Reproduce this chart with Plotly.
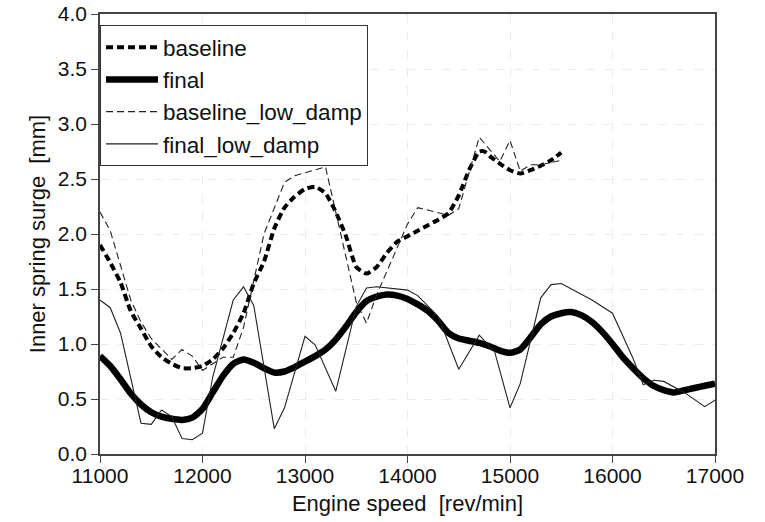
import plotly.graph_objects as go

# ---- data ----
baseline_rpm = [11000, 11100, 11200, 11300, 11400, 11500, 11600, 11700, 11800, 11900,
                12000, 12100, 12200, 12300, 12400, 12500, 12600, 12700, 12800, 12900,
                13000, 13100, 13200, 13300, 13400, 13500, 13600, 13700, 13800, 13900,
                14000, 14100, 14200, 14300, 14400, 14500, 14600, 14700, 14750, 14800,
                14900, 15000, 15100, 15200, 15300, 15400, 15500]
baseline = [1.90, 1.74, 1.56, 1.30, 1.14, 0.98, 0.88, 0.82, 0.78, 0.78,
            0.80, 0.86, 0.96, 1.10, 1.28, 1.55, 1.75, 2.05, 2.24, 2.34,
            2.41, 2.43, 2.37, 2.20, 1.98, 1.70, 1.64, 1.70, 1.83, 1.93,
            1.98, 2.03, 2.08, 2.13, 2.19, 2.35, 2.58, 2.75, 2.75, 2.71,
            2.64, 2.58, 2.55, 2.58, 2.62, 2.67, 2.74]

final_rpm = [11000, 11100, 11200, 11300, 11400, 11500, 11600, 11700, 11800, 11900,
             12000, 12100, 12200, 12300, 12400, 12500, 12600, 12700, 12800, 12900,
             13000, 13100, 13200, 13300, 13400, 13500, 13600, 13700, 13800, 13900,
             14000, 14100, 14200, 14300, 14400, 14500, 14600, 14700, 14800, 14900,
             15000, 15100, 15200, 15300, 15400, 15500, 15600, 15700, 15800, 15900,
             16000, 16100, 16200, 16300, 16400, 16500, 16600, 16700, 16800, 16900,
             17000]
final = [0.89, 0.80, 0.68, 0.55, 0.45, 0.38, 0.34, 0.32, 0.31, 0.33,
         0.41, 0.56, 0.71, 0.82, 0.86, 0.83, 0.78, 0.74, 0.75, 0.79,
         0.84, 0.89, 0.95, 1.04, 1.16, 1.29, 1.39, 1.43, 1.45, 1.44,
         1.41, 1.36, 1.30, 1.21, 1.10, 1.05, 1.03, 1.01, 0.98, 0.94,
         0.92, 0.95, 1.06, 1.18, 1.25, 1.28, 1.29, 1.26, 1.20, 1.11,
         1.00, 0.88, 0.78, 0.69, 0.62, 0.58, 0.56, 0.58, 0.60, 0.62,
         0.64]

baseline_low_rpm = [11000, 11100, 11300, 11400, 11500, 11600, 11700, 11800, 11900, 12000,
                    12200, 12300, 12400, 12600, 12800, 12900, 13200, 13500, 13600, 13700,
                    14000, 14100, 14300, 14400, 14500, 14700, 14900, 15000, 15100, 15200,
                    15300, 15500]
baseline_low_damp = [2.20, 2.03, 1.40, 1.20, 1.05, 0.95, 0.86, 0.95, 0.89, 0.76,
                     0.88, 0.88, 1.15, 2.00, 2.47, 2.53, 2.61, 1.38, 1.19, 1.45,
                     2.09, 2.24, 2.19, 2.17, 2.23, 2.88, 2.66, 2.85, 2.57, 2.63,
                     2.63, 2.67]

final_low_rpm = [11000, 11100, 11200, 11400, 11500, 11600, 11700, 11800, 11900, 12000,
                 12100, 12200, 12300, 12400, 12500, 12700, 12800, 13000, 13100, 13300,
                 13500, 13600, 13700, 14000, 14100, 14300, 14500, 14700, 14850, 15000,
                 15100, 15300, 15400, 15500, 15800, 16000, 16200, 16300, 16400, 16500,
                 16700, 16900, 17000]
final_low_damp = [1.40, 1.33, 1.10, 0.28, 0.27, 0.40, 0.34, 0.14, 0.13, 0.19,
                  0.70, 1.05, 1.40, 1.52, 1.35, 0.23, 0.42, 1.07, 0.99, 0.57,
                  1.34, 1.51, 1.52, 1.49, 1.44, 1.25, 0.77, 1.08, 0.93, 0.42,
                  0.64, 1.42, 1.54, 1.55, 1.40, 1.28, 0.87, 0.63, 0.67, 0.66,
                  0.56, 0.43, 0.49]

x_ticks = [11000, 12000, 13000, 14000, 15000, 16000, 17000]
y_ticks = [0.0, 0.5, 1.0, 1.5, 2.0, 2.5, 3.0, 3.5, 4.0]

FONT = "Liberation Sans, Arial, sans-serif"

fig = go.Figure()
fig.add_trace(go.Scatter(x=baseline_rpm, y=baseline, name="baseline", mode="lines",
                         line=dict(color="black", width=4, dash="7px,4px",
                                   shape="spline", smoothing=0.5)))
fig.add_trace(go.Scatter(x=final_rpm, y=final, name="final", mode="lines",
                         line=dict(color="black", width=6.5, shape="spline", smoothing=0.6)))
fig.add_trace(go.Scatter(x=baseline_low_rpm, y=baseline_low_damp, name="baseline_low_damp",
                         mode="lines", line=dict(color="#222222", width=1.1, dash="7px,4px")))
fig.add_trace(go.Scatter(x=final_low_rpm, y=final_low_damp, name="final_low_damp",
                         mode="lines", line=dict(color="#222222", width=1.1)))

fig.update_layout(
    width=765, height=522,
    margin=dict(l=100, r=50, t=14, b=68),
    paper_bgcolor="white", plot_bgcolor="white",
    font=dict(family=FONT, color="#111111", size=20),
    showlegend=True,
    legend=dict(x=0, y=0.975, xanchor="left", yanchor="top",
                bordercolor="#333333", borderwidth=1, bgcolor="white",
                font=dict(size=22.5, family=FONT), tracegroupgap=0,
                itemwidth=52),
    xaxis=dict(range=[11000, 17000], tickvals=x_ticks,
               ticktext=[str(v) for v in x_ticks],
               showline=True, linecolor="#444444", linewidth=1.5, mirror=True,
               ticks="outside", ticklen=7, tickcolor="#444444",
               showgrid=True, gridcolor="#ececec", griddash="dash", zeroline=False,
               tickfont=dict(size=21), automargin=False, ticklabelstandoff=-5,
               title=dict(text="Engine speed&nbsp;&nbsp;[rev/min]", font=dict(size=22), standoff=10)),
    yaxis=dict(range=[0, 4.0], tickvals=y_ticks,
               ticktext=[f"{v:.1f}" for v in y_ticks],
               showline=True, linecolor="#444444", linewidth=1.5, mirror=True,
               ticks="outside", ticklen=7, tickcolor="#444444",
               showgrid=True, gridcolor="#ececec", griddash="dash", zeroline=False,
               tickfont=dict(size=21), automargin=False,
               title=dict(text="Inner spring surge&nbsp;&nbsp;[mm]", font=dict(size=22), standoff=6)),
)

fig.write_html("out.html")
